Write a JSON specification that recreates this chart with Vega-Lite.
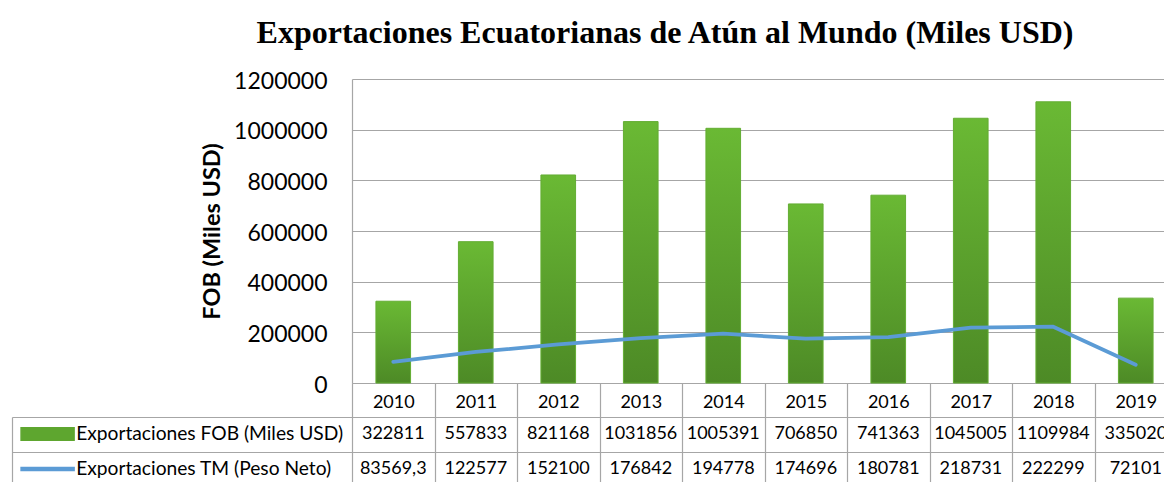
{
  "$schema": "https://vega.github.io/schema/vega-lite/v6.json",
  "width": 812,
  "height": 304,
  "autosize": {"type": "none"},
  "padding": {"left": 352, "top": 79, "right": 0, "bottom": 99},
  "title": {
    "text": "Exportaciones Ecuatorianas de Atún al Mundo (Miles USD)",
    "font": "Liberation Serif",
    "fontSize": 32,
    "fontWeight": "bold",
    "color": "#000000",
    "anchor": "middle",
    "frame": "group",
    "dx": -93,
    "offset": 20
  },
  "config": {
    "view": {"stroke": null},
    "font": "Lato",
    "locale": {"number": {"decimal": ",", "thousands": ".", "grouping": [3], "currency": ["", ""]}}
  },
  "data": {
    "values": [
      {"year": 2010, "serie": "Exportaciones FOB (Miles USD)", "value": 322811},
      {"year": 2011, "serie": "Exportaciones FOB (Miles USD)", "value": 557833},
      {"year": 2012, "serie": "Exportaciones FOB (Miles USD)", "value": 821168},
      {"year": 2013, "serie": "Exportaciones FOB (Miles USD)", "value": 1031856},
      {"year": 2014, "serie": "Exportaciones FOB (Miles USD)", "value": 1005391},
      {"year": 2015, "serie": "Exportaciones FOB (Miles USD)", "value": 706850},
      {"year": 2016, "serie": "Exportaciones FOB (Miles USD)", "value": 741363},
      {"year": 2017, "serie": "Exportaciones FOB (Miles USD)", "value": 1045005},
      {"year": 2018, "serie": "Exportaciones FOB (Miles USD)", "value": 1109984},
      {"year": 2019, "serie": "Exportaciones FOB (Miles USD)", "value": 335020},
      {"year": 2010, "serie": "Exportaciones TM (Peso Neto)", "value": 83569.3},
      {"year": 2011, "serie": "Exportaciones TM (Peso Neto)", "value": 122577},
      {"year": 2012, "serie": "Exportaciones TM (Peso Neto)", "value": 152100},
      {"year": 2013, "serie": "Exportaciones TM (Peso Neto)", "value": 176842},
      {"year": 2014, "serie": "Exportaciones TM (Peso Neto)", "value": 194778},
      {"year": 2015, "serie": "Exportaciones TM (Peso Neto)", "value": 174696},
      {"year": 2016, "serie": "Exportaciones TM (Peso Neto)", "value": 180781},
      {"year": 2017, "serie": "Exportaciones TM (Peso Neto)", "value": 218731},
      {"year": 2018, "serie": "Exportaciones TM (Peso Neto)", "value": 222299},
      {"year": 2019, "serie": "Exportaciones TM (Peso Neto)", "value": 72101}
    ]
  },
  "encoding": {
    "x": {
      "field": "year",
      "type": "ordinal",
      "scale": {"type": "band", "range": [0, 825], "paddingInner": 0, "paddingOuter": 0},
      "axis": {
        "orient": "bottom",
        "title": null,
        "labelAngle": 0,
        "labelFont": "Lato",
        "labelFontSize": 18,
        "labelColor": "#000000",
        "labelPadding": -100,
        "domainColor": "#a6a6a6",
        "domainWidth": 1.2,
        "ticks": true,
        "tickBand": "extent",
        "tickSize": 110,
        "tickColor": "#a6a6a6",
        "tickWidth": 1.2,
        "grid": false
      }
    }
  },
  "layer": [
    {
      "encoding": {
        "y": {
          "field": "value",
          "type": "quantitative",
          "scale": {"domain": [0, 1200000], "nice": false, "zero": true},
          "axis": {
            "orient": "left",
            "title": "FOB (Miles USD)",
            "titleFont": "Lato",
            "titleFontSize": 23.5,
            "titleFontWeight": "bold",
            "titleColor": "#000000",
            "titlePadding": 9,
            "labelFont": "Lato",
            "labelFontSize": 23,
            "labelColor": "#000000",
            "labelPadding": 25,
            "labelOffset": 2,
            "ticks": false,
            "format": "d",
            "tickCount": 6,
            "domainColor": "#a6a6a6",
            "domainWidth": 1.2,
            "grid": true,
            "gridColor": "#a6a6a6",
            "gridWidth": 1.2
          }
        }
      },
      "layer": [
        {
          "transform": [{"filter": "datum.serie === 'Exportaciones FOB (Miles USD)'"}],
          "mark": {
            "type": "bar",
            "width": {"band": 0.42},
            "stroke": "#63ad33",
            "strokeWidth": 1,
            "fill": {
              "gradient": "linear",
              "x1": 0, "y1": 0, "x2": 0, "y2": 1,
              "stops": [
                {"offset": 0, "color": "#6ab934"},
                {"offset": 1, "color": "#4d8a26"}
              ]
            }
          }
        },
        {
          "transform": [{"filter": "datum.serie === 'Exportaciones TM (Peso Neto)'"}],
          "mark": {"type": "line", "strokeWidth": 3.75, "strokeCap": "round", "strokeJoin": "round"},
          "encoding": {
            "stroke": {
              "field": "serie",
              "type": "nominal",
              "scale": {
                "domain": ["Exportaciones FOB (Miles USD)", "Exportaciones TM (Peso Neto)"],
                "range": ["#5ea62f", "#5B9BD5"]
              },
              "legend": {
                "orient": "none",
                "legendX": -314,
                "legendY": 345.5,
                "title": null,
                "direction": "vertical",
                "padding": 0,
                "symbolSize": 100,
                "symbolOpacity": 1,
                "symbolType": {"expr": "datum.value === 'Exportaciones TM (Peso Neto)' ? 'M-5.3,-0.3H5.3V0.3H-5.3Z' : 'M-5.3,-1.25H5.3V1.25H-5.3Z'"},
                "symbolFillColor": {"expr": "datum.value === 'Exportaciones TM (Peso Neto)' ? '#5B9BD5' : '#5ea62f'"},
                "labelFont": "Lato",
                "labelFontSize": 19.2,
                "labelColor": "#000000",
                "labelOffset": 19,
                "labelLimit": 500,
                "rowPadding": 15
              }
            }
          }
        }
      ]
    },
    {
      "mark": {"type": "text", "font": "Lato", "fontSize": 18, "color": "#000000", "baseline": "middle"},
      "encoding": {
        "y": {
          "field": "serie",
          "type": "nominal",
          "scale": {
            "type": "band",
            "domain": ["Exportaciones FOB (Miles USD)", "Exportaciones TM (Peso Neto)"],
            "range": [338, 407],
            "paddingInner": 0,
            "paddingOuter": 0
          },
          "axis": {
            "orient": "left",
            "offset": 340,
            "title": null,
            "labels": false,
            "grid": false,
            "domain": true,
            "domainColor": "#a6a6a6",
            "domainWidth": 1.2,
            "ticks": true,
            "tickBand": "extent",
            "tickSize": -1170,
            "tickColor": "#a6a6a6",
            "tickWidth": 1.2
          }
        },
        "text": {"field": "value", "type": "quantitative", "format": ".12~g"}
      }
    }
  ],
  "resolve": {"scale": {"y": "independent"}, "axis": {"y": "independent"}}
}
